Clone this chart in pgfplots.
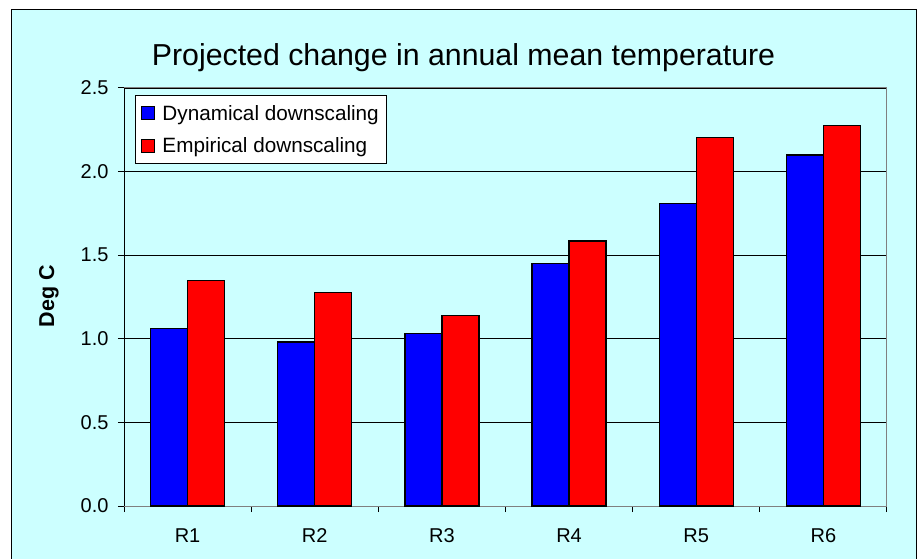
\documentclass[border=0pt]{standalone}
\usepackage{pgfplots}
\pgfplotsset{compat=1.18}
\usepackage{fontspec}
\setmainfont{Liberation Sans}
\definecolor{bgc}{RGB}{204,255,255}
\definecolor{dblue}{RGB}{0,0,255}
\definecolor{dred}{RGB}{255,0,0}
\definecolor{bordgray}{RGB}{128,128,128}
\begin{document}
\begin{tikzpicture}[x=1pt,y=1pt]
\useasboundingbox (0,0) rectangle (919,558);
\clip (0,0) rectangle (919,558);
\draw[black, line width=1pt, fill=bgc] (11,-10) rectangle (916,548);
\begin{axis}[
  at={(124pt,52pt)}, anchor=south west,
  scale only axis, width=763pt, height=418pt,
  xmin=0.5, xmax=6.5, ymin=0, ymax=2.5,
  ybar=0pt, bar width=37pt,
  axis background/.style={fill=bgc},
  axis line style={bordgray, line width=1pt},
  xtick={0.5,1.5,2.5,3.5,4.5,5.5,6.5},
  x tick label as interval,
  xticklabels={R1,R2,R3,R4,R5,R6},
  ytick={0,0.5,1,1.5,2,2.5},
  /pgf/number format/fixed,
  /pgf/number format/fixed zerofill,
  /pgf/number format/precision=1,
  /pgf/number format/assume math mode=true,
  xtick pos=bottom, ytick pos=left,
  tick align=outside,
  major tick length=6pt,
  tick style={black, line width=1pt},
  ymajorgrids,
  grid style={black, line width=0.8pt},
  ticklabel style={font=\fontsize{20}{24}\selectfont},
  yticklabel style={xshift=-6pt},
  xticklabel style={yshift=-13pt},
  title={Projected change in annual mean temperature},
  title style={font=\fontsize{30.3}{36}\selectfont, at={(axis description cs:0.445,1.04)}, anchor=base, inner sep=0pt},
  ylabel={Deg C},
  ylabel style={font=\bfseries\fontsize{21.5}{25}\selectfont, at={(axis description cs:-0.0985,0.502)}, anchor=center},
  legend style={at={(axis description cs:0.0144,0.983)}, anchor=north west, draw=black, line width=1pt, fill=white,
    font=\fontsize{20.7}{24}\selectfont, row sep=12pt, inner xsep=6pt, inner ysep=7.5pt,
    /tikz/every odd column/.append style={column sep=5pt}},
  legend cell align=left,
  legend image code/.code={\draw[#1, draw=black, line width=1pt] (0pt,-6.5pt) rectangle (13pt,6.5pt);},
]
\addplot[fill=dblue, draw=black, line width=1.3pt] coordinates {(1,1.06) (2,0.98) (3,1.03) (4,1.45) (5,1.81) (6,2.10)};
\addplot[fill=dred, draw=black, line width=1.3pt] coordinates {(1,1.35) (2,1.275) (3,1.14) (4,1.585) (5,2.205) (6,2.275)};
\legend{Dynamical downscaling, Empirical downscaling}
\draw[black, line width=1pt] (rel axis cs:0,0) -- (rel axis cs:0,1);
\end{axis}
\end{tikzpicture}
\end{document}
